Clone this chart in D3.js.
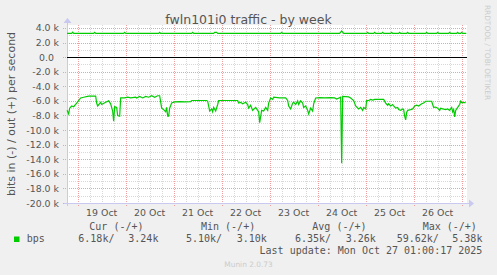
<!DOCTYPE html>
<html>
<head>
<meta charset="utf-8">
<script src="https://cdn.jsdelivr.net/npm/d3@7"></script>
<style>
  body { margin: 0; background: #f0f0f0; }
  svg { display: block; }
  text { font-family: "DejaVu Sans", sans-serif; fill: #555; }
  .mono { font-family: "DejaVu Sans Mono", monospace; font-size: 10px; white-space: pre; }
</style>
</head>
<body>
<div id="chart"></div>
<script>
const WIDTH = 497;
const HEIGHT = 275;
const MARGIN = { top: 25, right: 30, bottom: 72, left: 67 };

// hours counted from 19 Oct 00:00, values in kbit/s
const inHours = [-5.3, -4.5, -4, -3, -2, -0.5, 1.5, 3, 5.5, 9, 9.5, 10, 11.5, 12, 14, 15.5, 16.5, 17.5, 18, 18.5,
  19.5, 20, 21, 21.5, 23.5, 25, 26.5, 29, 29.5, 31, 32.5, 34, 35.5, 37, 38.5, 40, 41, 42, 43, 44,
  44.5, 45, 45.5, 46, 47, 48.5, 51, 53.5, 56.5, 57, 61, 64.5, 65, 66, 67, 67.5, 68, 69, 70, 70.5,
  76, 80, 80.5, 81.5, 82.5, 84, 85, 85.5, 86.5, 87.5, 89, 90, 90.5, 91, 92, 93, 94, 95, 95.5, 96.5,
  97.5, 98, 101, 104, 105, 105.5, 106.5, 107.5, 108, 109, 110, 110.5, 111.5, 112.5, 113, 114, 115, 115.5, 116.5, 117.5,
  118, 119, 121, 123.5, 126.5, 128.5, 129.5, 131.5, 132, 132.5, 135.5, 136.5, 138, 139, 140.5, 141.5, 142.5, 143, 144, 144.5,
  145.5, 146.5, 147.5, 148.5, 153, 154, 155, 155.5, 156.5, 157.5, 158, 159, 160, 160.5, 161.5, 162.5, 163, 163.5, 164, 164.5,
  165, 166.5, 167.5, 168.5, 169.5, 170.5, 172, 173, 174, 177, 177.5, 178, 179, 180, 181, 181.5, 182.5, 184, 185, 186,
  187, 187.5, 188, 188.5, 189, 190, 191, 191.5, 192, 194];
const inValues = [7.3, 7.8, 7.0, 6.7, 6.8, 6.3, 5.6, 5.5, 5.35, 5.35, 6.3, 6.7, 6.2, 6.5, 6.2, 6.0, 6.4, 7.4, 8.8, 6.8,
  6.9, 8.0, 8.1, 5.6, 5.6, 5.5, 5.6, 5.5, 5.6, 5.4, 5.6, 5.4, 5.5, 5.3, 5.5, 5.3, 5.3, 7.0, 7.2, 7.5,
  6.9, 8.1, 8.1, 7.0, 6.3, 6.15, 6.1, 6.15, 6.1, 5.95, 5.95, 5.95, 6.05, 7.4, 7.1, 7.5, 6.9, 7.4, 6.5, 5.95,
  5.95, 5.95, 6.3, 6.2, 6.4, 6.2, 6.5, 7.0, 6.6, 7.3, 6.9, 7.3, 7.5, 9.0, 7.3, 7.4, 6.9, 7.3, 6.3, 5.6,
  5.8, 5.5, 5.6, 5.6, 5.95, 6.7, 7.1, 6.3, 6.2, 6.5, 6.0, 6.5, 6.0, 6.3, 6.9, 6.7, 7.3, 7.8, 7.0, 7.4,
  6.4, 5.6, 5.55, 5.6, 5.55, 5.6, 5.75, 5.5, 14.55, 5.4, 5.45, 5.6, 5.95, 6.7, 7.1, 6.9, 7.3, 6.9, 7.1, 5.95,
  5.95, 5.8, 5.9, 5.8, 5.8, 6.3, 6.6, 6.4, 6.7, 6.5, 6.7, 7.0, 6.9, 7.2, 7.3, 7.1, 7.2, 8.1, 8.6, 7.6,
  7.3, 7.2, 7.1, 6.7, 6.6, 6.7, 6.4, 6.3, 6.05, 6.05, 6.5, 6.9, 6.85, 7.0, 7.3, 7.0, 7.1, 7.2, 7.1, 7.3,
  6.9, 7.5, 7.2, 8.2, 7.3, 6.9, 6.5, 6.05, 6.25, 6.25];

const outHours = [-5.3, -3, -2.5, -2, 8, 8.5, 9, 23, 23.5, 24, 40.5, 41, 41.5, 57, 57.5, 58, 68, 68.5, 69.5, 70,
  101.5, 102, 102.5, 131, 132, 133, 144.5, 145, 145.5, 148, 148.5, 149, 152, 152.5, 153, 156.5, 157, 157.5, 160.5, 161,
  161.5, 164.5, 165, 165.5, 174, 174.5, 175, 179.5, 180, 180.5, 185.5, 186, 186.5, 189.5, 190, 190.5, 191.5, 192, 192.5, 194.3];
const outValues = [3.26, 3.26, 3.42, 3.26, 3.26, 3.4, 3.26, 3.26, 3.4, 3.26, 3.26, 3.4, 3.26, 3.26, 3.4, 3.26, 3.26, 3.4, 3.4, 3.26,
  3.26, 3.4, 3.26, 3.26, 3.6, 3.26, 3.26, 3.4, 3.26, 3.26, 3.4, 3.26, 3.26, 3.4, 3.26, 3.26, 3.4, 3.26, 3.26, 3.4,
  3.26, 3.26, 3.4, 3.26, 3.26, 3.4, 3.26, 3.26, 3.4, 3.26, 3.26, 3.4, 3.26, 3.26, 3.4, 3.26, 3.26, 3.4, 3.26, 3.26];

const yTicks = [4, 2, 0, -2, -4, -6, -8, -10, -12, -14, -16, -18, -20];
const xTickLabels = ['19 Oct', '20 Oct', '21 Oct', '22 Oct', '23 Oct', '24 Oct', '25 Oct', '26 Oct'];

const legendHeaders = ['Cur (-/+)', 'Min (-/+)', 'Avg (-/+)', 'Max (-/+)'];
const legendIn = ['6.18k/', '5.10k/', '6.35k/', '59.62k/'];
const legendOut = ['3.24k', '3.10k', '3.26k', '5.38k'];
const lastUpdate = 'Last update: Mon Oct 27 01:00:17 2025';

const GREEN = '#00cc00';
const base = new Date(2025, 9, 19, 0, 0);
const toDate = h => new Date(base.getTime() + h * 3600e3);

const svg = d3.select('#chart')
  .append('svg')
  .attr('width', WIDTH)
  .attr('height', HEIGHT);

const x = d3.scaleTime()
  .domain([toDate(-5 - 1 / 3), toDate(194 + 2 / 3)])
  .range([MARGIN.left, WIDTH - MARGIN.right]);

const y = d3.scaleLinear()
  .domain([-20, 4.4])
  .range([HEIGHT - MARGIN.bottom, MARGIN.top]);

const [x0, x1] = x.range();
const [y0, y1] = y.range(); // y0 bottom, y1 top

// plot background
svg.append('rect')
  .attr('x', x0).attr('y', y1)
  .attr('width', x1 - x0).attr('height', y0 - y1)
  .attr('fill', '#fff');

// minor grid
const minorY = d3.range(-20, 4.5, 1).filter(v => v % 2 !== 0);
svg.append('g')
  .selectAll('line')
  .data(minorY)
  .join('line')
  .attr('x1', x0).attr('x2', x1)
  .attr('y1', d => Math.round(y(d)) + 0.5).attr('y2', d => Math.round(y(d)) + 0.5)
  .attr('stroke', '#d8d8d8').attr('stroke-dasharray', '1,1');

const minorX = x.ticks(d3.timeHour.every(6)).filter(d => d.getHours() !== 0);
svg.append('g')
  .selectAll('line')
  .data(minorX)
  .join('line')
  .attr('x1', d => Math.round(x(d)) + 0.5).attr('x2', d => Math.round(x(d)) + 0.5)
  .attr('y1', y1).attr('y2', y0)
  .attr('stroke', '#d8d8d8').attr('stroke-dasharray', '1,1');

// major grid
svg.append('g')
  .selectAll('line')
  .data(yTicks)
  .join('line')
  .attr('x1', x0 - 4).attr('x2', x1)
  .attr('y1', d => Math.round(y(d)) + 0.5).attr('y2', d => Math.round(y(d)) + 0.5)
  .attr('stroke', '#f0a0a0').attr('stroke-dasharray', '1,1');

const days = x.ticks(d3.timeDay.every(1));
svg.append('g')
  .selectAll('line')
  .data(days)
  .join('line')
  .attr('x1', d => Math.round(x(d)) + 0.5).attr('x2', d => Math.round(x(d)) + 0.5)
  .attr('y1', y1).attr('y2', y0 + 3)
  .attr('stroke', '#f0a0a0').attr('stroke-dasharray', '1,1');

// y labels
svg.append('g')
  .selectAll('text')
  .data(yTicks)
  .join('text')
  .attr('x', d => d === 0 ? x0 - 13 : x0 - 8)
  .attr('y', d => y(d) + 3.5)
  .attr('text-anchor', 'end')
  .attr('font-size', 9.4)
  .text(d => d === 0 ? '0.0' : d.toFixed(1) + ' k');

// x labels at noon
svg.append('g')
  .selectAll('text')
  .data(xTickLabels)
  .join('text')
  .attr('x', (d, i) => x(d3.timeHour.offset(days[i], 12)))
  .attr('y', y0 + 13)
  .attr('text-anchor', 'middle')
  .attr('font-size', 9.4)
  .text(d => d);

// axes
const axisColor = '#c8c8f0';
svg.append('line')
  .attr('x1', x0 - 3).attr('x2', x1 + 3)
  .attr('y1', y0 + 0.5).attr('y2', y0 + 0.5)
  .attr('stroke', axisColor);
svg.append('line')
  .attr('x1', x0 + 0.5).attr('x2', x0 + 0.5)
  .attr('y1', y0 + 3).attr('y2', y1 - 3)
  .attr('stroke', axisColor);
svg.append('path')
  .attr('d', `M${x1 + 2},${y0 - 3.5} L${x1 + 7},${y0 + 0.5} L${x1 + 2},${y0 + 4.5} Z`)
  .attr('fill', axisColor);
svg.append('path')
  .attr('d', `M${x0 - 3.5},${y1 - 2} L${x0 + 0.5},${y1 - 7} L${x0 + 4.5},${y1 - 2} Z`)
  .attr('fill', axisColor);

// zero line
svg.append('line')
  .attr('x1', x0).attr('x2', x1)
  .attr('y1', Math.round(y(0)) + 0.5).attr('y2', Math.round(y(0)) + 0.5)
  .attr('stroke', '#000');

// series
const inData = inHours.map((h, i) => ({ t: toDate(h), v: -inValues[i] }));
const outData = outHours.map((h, i) => ({ t: toDate(h), v: outValues[i] }));

const line = d3.line()
  .x(d => x(d.t))
  .y(d => y(d.v));

svg.append('path')
  .datum(inData)
  .attr('d', line)
  .attr('fill', 'none')
  .attr('stroke', GREEN)
  .attr('stroke-width', 1.2);

svg.append('path')
  .datum(outData)
  .attr('d', line)
  .attr('fill', 'none')
  .attr('stroke', GREEN)
  .attr('stroke-width', 1.2);

// titles
svg.append('text')
  .attr('x', WIDTH / 2)
  .attr('y', 23.5)
  .attr('text-anchor', 'middle')
  .attr('font-size', 12.5)
  .text('fwln101i0 traffic - by week');

svg.append('text')
  .attr('transform', `translate(15,${(y0 + y1) / 2}) rotate(-90)`)
  .attr('text-anchor', 'middle')
  .attr('font-size', 11)
  .text('bits in (-) / out (+) per second');

svg.append('text')
  .attr('transform', 'translate(485,52.5) rotate(90)')
  .attr('text-anchor', 'middle')
  .attr('font-size', 7.4)
  .style('fill', '#ccc')
  .text('RRDTOOL / TOBI OETIKER');

// legend
svg.append('rect')
  .attr('x', 14).attr('y', 236.5)
  .attr('width', 5.5).attr('height', 5.5)
  .attr('fill', GREEN);

svg.append('text').attr('class', 'mono')
  .attr('x', 26.7).attr('y', 242).text('bps');

const headerX = [89.3, 201, 312.3, 422.7];
const inX = [78.3, 186, 295, 396.7];
const outX = [128.3, 236.7, 345.7, 452.3];

svg.append('g').selectAll('text')
  .data(legendHeaders)
  .join('text').attr('class', 'mono')
  .attr('x', (d, i) => headerX[i]).attr('y', 230)
  .text(d => d);

svg.append('g').selectAll('text')
  .data(legendIn)
  .join('text').attr('class', 'mono')
  .attr('x', (d, i) => inX[i]).attr('y', 242)
  .text(d => d);

svg.append('g').selectAll('text')
  .data(legendOut)
  .join('text').attr('class', 'mono')
  .attr('x', (d, i) => outX[i]).attr('y', 242)
  .text(d => d);

svg.append('text').attr('class', 'mono')
  .attr('x', 482.3).attr('y', 254)
  .attr('text-anchor', 'end')
  .text(lastUpdate);

svg.append('text')
  .attr('x', WIDTH / 2)
  .attr('y', 267)
  .attr('text-anchor', 'middle')
  .attr('font-size', 7.4)
  .style('fill', '#ccc')
  .text('Munin 2.0.73');
</script>
</body>
</html>
